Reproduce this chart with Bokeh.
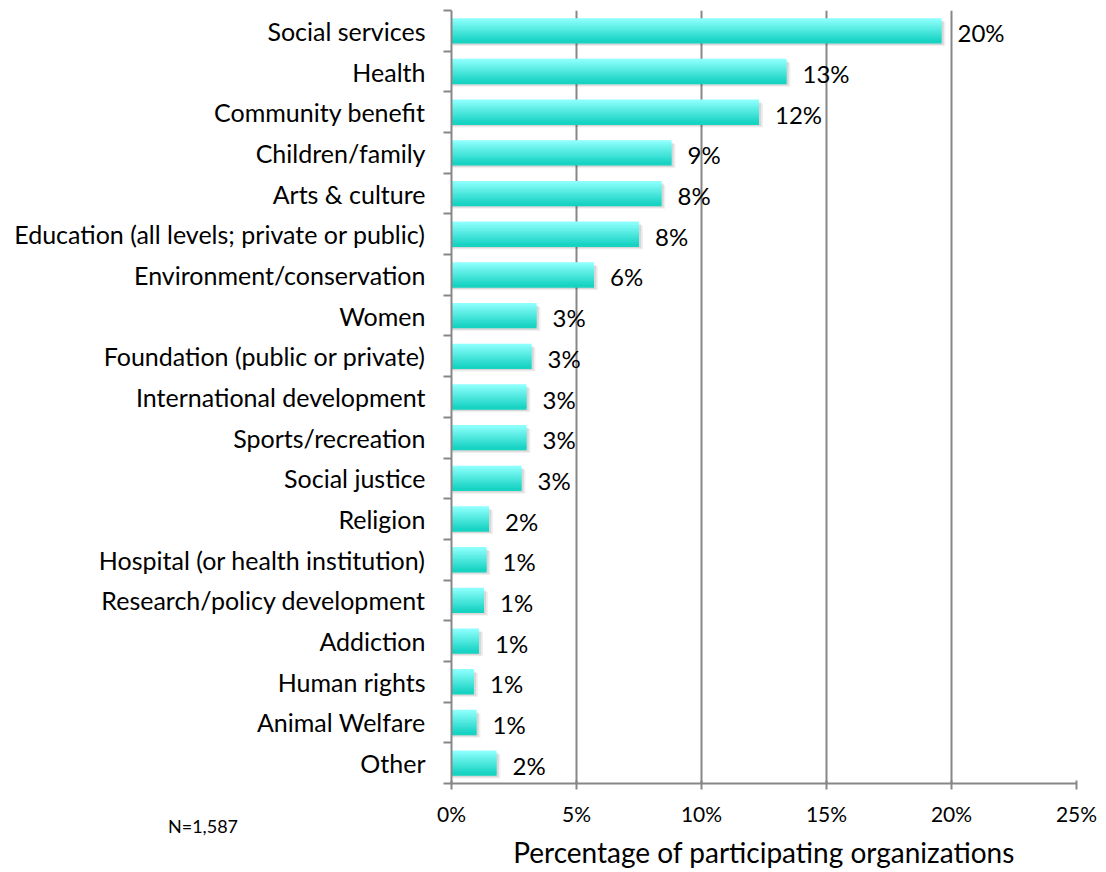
from bokeh.plotting import figure
from bokeh.models import Range1d, FixedTicker, ColumnDataSource, Div
from bokeh.layouts import column
from bokeh.transform import dodge
from bokeh.core.properties import value
from bokeh.embed import file_html
from bokeh.resources import INLINE

categories = [
    "Social services", "Health", "Community benefit", "Children/family",
    "Arts & culture", "Education (all levels; private or public)",
    "Environment/conservation", "Women", "Foundation (public or private)",
    "International development", "Sports/recreation", "Social justice",
    "Religion", "Hospital (or health institution)", "Research/policy development",
    "Addiction", "Human rights", "Animal Welfare", "Other",
]
values = [19.6, 13.4, 12.3, 8.8, 8.4, 7.5, 5.7, 3.4, 3.2, 3.0, 3.0, 2.8,
          1.5, 1.4, 1.3, 1.1, 0.9, 1.0, 1.8]
value_labels = ["20%", "13%", "12%", "9%", "8%", "8%", "6%", "3%", "3%", "3%",
                "3%", "3%", "2%", "1%", "1%", "1%", "1%", "1%", "2%"]
x_ticks = [0, 5, 10, 15, 20, 25]
x_tick_labels = ["0%", "5%", "10%", "15%", "20%", "25%"]
x_title = "Percentage of participating organizations"
note = "N=1,587"

FONT = "Lato"
GRID = "#878787"
n = len(categories)
y_pos = [n - i - 0.5 for i in range(n)]
boundaries = list(range(n + 1))

src = ColumnDataSource(dict(y=y_pos, v=values, lab=value_labels))

p = figure(width=1106, height=872, x_range=Range1d(0, 25), y_range=Range1d(0, n),
           output_backend="svg", toolbar_location=None,
           min_border_left=451, min_border_right=30, min_border_top=10,
           min_border_bottom=89)
p.outline_line_color = None
p.background_fill_color = "white"
p.border_fill_color = "white"

# grid
p.ygrid.visible = False
p.xgrid.ticker = FixedTicker(ticks=x_ticks)
p.xgrid.grid_line_color = GRID
p.xgrid.grid_line_width = 2

# x axis
xa = p.xaxis[0]
xa.ticker = FixedTicker(ticks=x_ticks)
xa.major_label_overrides = {t: l for t, l in zip(x_ticks, x_tick_labels)}
xa.axis_line_color = GRID
xa.axis_line_width = 2
xa.major_tick_line_color = GRID
xa.major_tick_line_width = 2
xa.major_tick_in = 3
xa.major_tick_out = 6
xa.minor_tick_line_color = None
xa.major_label_text_font = FONT
xa.major_label_text_font_size = "21px"
xa.major_label_text_color = "black"
xa.major_label_standoff = 11
xa.axis_label = x_title
xa.axis_label_text_font = FONT
xa.axis_label_text_font_size = "28px"
xa.axis_label_text_font_style = "normal"
xa.axis_label_text_color = "black"
xa.axis_label_standoff = 6

# y axis
ya = p.yaxis[0]
ya.ticker = FixedTicker(ticks=y_pos, minor_ticks=boundaries)
ya.major_label_overrides = {yy: c for yy, c in zip(y_pos, categories)}
ya.axis_line_color = GRID
ya.axis_line_width = 2
ya.major_tick_line_color = None
ya.major_tick_in = 0
ya.major_tick_out = 0
ya.minor_tick_line_color = GRID
ya.minor_tick_line_width = 2
ya.minor_tick_in = 0
ya.minor_tick_out = 8
ya.major_label_text_font = FONT
ya.major_label_text_font_size = "25px"
ya.major_label_text_color = "black"
ya.major_label_standoff = 18

BAR_H = 0.59
# shadow
p.hbar(y=dodge("y", -0.08), left=0.04, right=dodge("v", 0.16), height=BAR_H,
       source=src, fill_color="black", fill_alpha=0.06, line_color=None)
p.hbar(y=dodge("y", -0.05), left=0.02, right=dodge("v", 0.09), height=BAR_H,
       source=src, fill_color="black", fill_alpha=0.10, line_color=None)

# gradient bars
top = (0x8D, 0xFF, 0xFD)
bot = (0x16, 0xD3, 0xC2)
N = 14
sh = BAR_H / N
for k in range(N):
    t = k / (N - 1)
    c = "#%02x%02x%02x" % tuple(int(round(a + (b - a) * t)) for a, b in zip(top, bot))
    off = BAR_H / 2 - (k + 0.5) * sh
    p.hbar(y=dodge("y", off), left=0, right="v", height=sh * 1.8, source=src,
           fill_color=c, line_color=None)

# value labels
p.text(x=dodge("v", 0.64), y="y", text="lab", source=src, text_baseline="middle",
       text_align="left", text_font=value(FONT), text_font_size="24px",
       text_color="black", y_offset=2)

note_div = Div(text=note, width=120, height=22, margin=(-57, 0, 0, 168),
               styles={"font-family": FONT, "font-size": "18px", "color": "black",
                       "line-height": "22px"})

layout = column(p, note_div, spacing=0)
open("out.html", "w").write(file_html(layout, INLINE))
